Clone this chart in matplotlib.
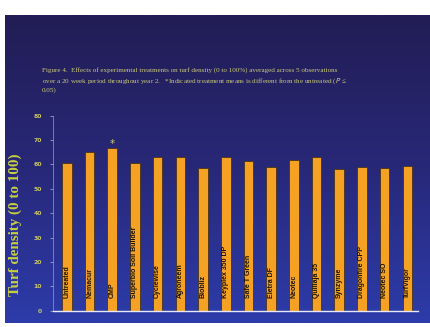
import numpy as np
import matplotlib
matplotlib.use("Agg")
import matplotlib.pyplot as plt
from matplotlib.colors import LinearSegmentedColormap

treatments = ["Untreated", "Nemacur", "CMP", "Superbio Soil Builder", "Cyclewise",
              "Agroneem", "Biobliz", "Keyplex 350 DP", "Safe T Green", "Eletra DF",
              "Neotec", "Quillaja 35", "Synzyme", "Dragonfire CPP", "Neotec SO",
              "TurfVigor"]
density = [60.4, 65.2, 66.6, 60.4, 62.9, 62.9, 58.5, 62.9, 61.6, 58.9,
           61.9, 62.9, 58.3, 58.9, 58.6, 59.3]
significant = ["CMP"]
yticks = [0, 10, 20, 30, 40, 50, 60, 70, 80]

TITLE = ("Figure 4.  Effects of experimental treatments on turf density (0 to 100%) averaged across 5 observations\n"
         "over a 20 week period throughout year 2.   *Indicated treatment means is different from the untreated ($P$ \u2264\n"
         "0.05)")

W, H = 431, 327
fig = plt.figure(figsize=(W / 100, H / 100), dpi=100)
fig.patch.set_facecolor("white")

# slide background with vertical gradient
bg = fig.add_axes([5 / W, (H - 323) / H, 425 / W, 308 / H], zorder=0)
grad = np.linspace(0, 1, 256).reshape(-1, 1)
cmap = LinearSegmentedColormap.from_list("slide", ["#221d54", "#282879", "#2d3caa"])
bg.imshow(grad, aspect="auto", cmap=cmap, extent=[0, 1, 0, 1], origin="upper")
bg.axis("off")

fig.text(42 / W, 1 - 67 / H, TITLE, color="#c8c878", fontsize=5.1,
         family="Liberation Serif", va="top", ha="left", linespacing=1.45)

ax = fig.add_axes([53 / W, (H - 310.7) / H, 365 / W, 195 / H], zorder=1)
ax.patch.set_alpha(0)
x = np.arange(len(treatments))
ax.bar(x, density, width=0.42, color="#f5a123", edgecolor="#3a2a10", linewidth=0.5)

for xi, name in zip(x, treatments):
    ax.text(xi, 5.4, name, rotation=90, ha="center", va="bottom",
            fontsize=5.0, fontweight="bold", color="#1a1408", family="Liberation Sans")
    if name in significant:
        ax.text(xi, density[xi] + 0.5, "*", ha="center", va="baseline",
                fontsize=7.5, color="#c8c878")

ax.set_xlim(-0.61, len(treatments) - 1 + 0.47)
ax.set_ylim(0, 80)
ax.set_yticks(yticks)
ax.set_yticklabels([str(t) for t in yticks])
ax.set_xticks([])
ax.tick_params(axis="y", colors="#b8b8c8", labelcolor="#c8c864", labelsize=4.4,
               length=2, width=0.5, pad=6)
for lbl in ax.get_yticklabels():
    lbl.set_fontweight("bold")
for side in ["top", "right"]:
    ax.spines[side].set_visible(False)
ax.spines["left"].set_color("#9a9ad0")
ax.spines["left"].set_linewidth(0.5)
ax.spines["bottom"].set_color("#e8e8f8")
ax.spines["bottom"].set_linewidth(1.0)

ax.set_ylabel("Turf density (0 to 100)", family="Liberation Serif", fontsize=10.8,
              fontweight="bold", color="#c8d040")
ax.yaxis.set_label_coords(-0.085, 0.44)

fig.savefig("out.png", dpi=100, facecolor="white")
